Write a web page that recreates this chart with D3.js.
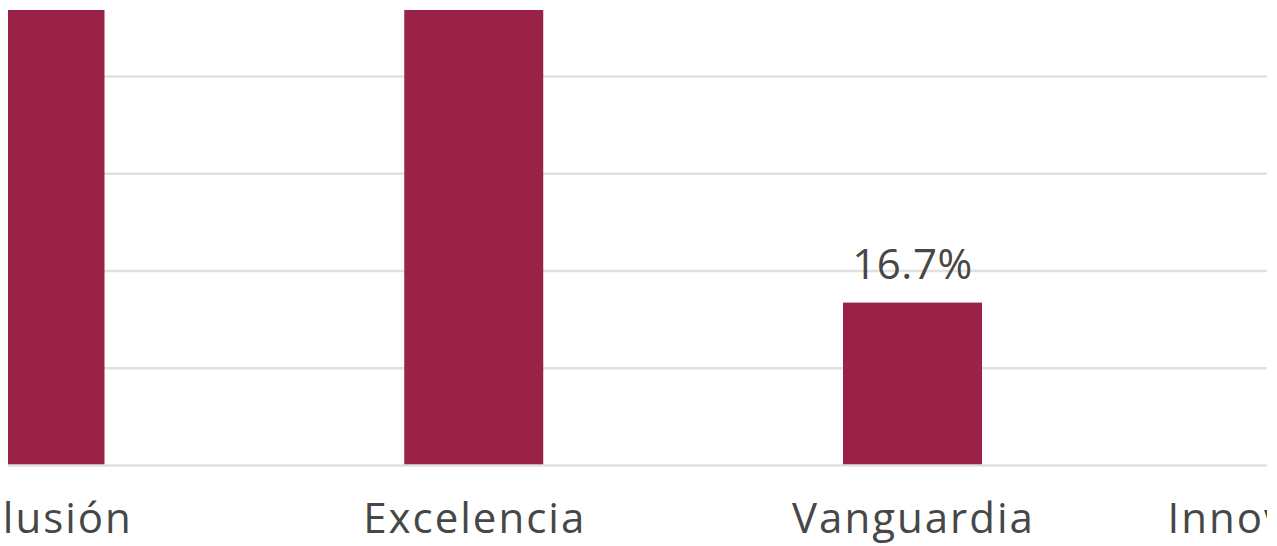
<!DOCTYPE html>
<html><head><meta charset="utf-8">
<script src="https://cdn.jsdelivr.net/npm/d3@7"></script>
<style>html,body{margin:0;padding:0;background:#fff;overflow:hidden}</style>
</head><body>
<script>
const categories = ["Inclusión", "Excelencia", "Vanguardia", "Innovación social"];
const values = [50.0, 50.0, 16.7, 16.7];
const yTicks = [0, 10, 20, 30, 40, 50];

const W = 1277, H = 546;
const FONT = "'Open Sans', sans-serif";
const svg = d3.select("body").append("svg").attr("width", W).attr("height", H);

const step = 438.75, firstCenter = 35;
const x = d3.scaleBand().domain(categories)
  .range([firstCenter - step / 2, firstCenter - step / 2 + step * categories.length])
  .paddingInner(1 - 139 / step).paddingOuter((1 - 139 / step) / 2);
const y = d3.scaleLinear().domain([0, 40]).range([465, 76]);

const defs = svg.append("defs");
defs.append("clipPath").attr("id", "plot").append("rect")
  .attr("x", 8).attr("y", 10).attr("width", 1259).attr("height", 460);
defs.append("clipPath").attr("id", "labels").append("rect")
  .attr("x", 0).attr("y", 0).attr("width", 1267).attr("height", H);

const plot = svg.append("g").attr("clip-path", "url(#plot)");

const grid = plot.append("g").attr("transform", "translate(8,0)")
  .call(d3.axisRight(y).tickValues(yTicks.filter(t => t > 0)).tickSize(1259).tickFormat(""));
grid.select(".domain").remove();
grid.selectAll("line").attr("stroke", "#e0e0e0").attr("stroke-width", 2.5);

plot.selectAll("rect.bar").data(categories).join("rect").attr("class", "bar")
  .attr("x", d => x(d)).attr("width", x.bandwidth())
  .attr("y", (d, i) => y(values[i])).attr("height", (d, i) => y(0) - y(values[i]))
  .attr("fill", "#9b2247");

const base = plot.append("g").attr("transform", "translate(8,0)")
  .call(d3.axisRight(y).tickValues([0]).tickSize(1259).tickFormat(""));
base.select(".domain").remove();
base.selectAll("line").attr("stroke", "#e0e0e0").attr("stroke-width", 2.5);

const lab = svg.append("g").attr("clip-path", "url(#labels)");
// only value labels whose anchor lies inside the visible window
const shown = categories.map((d, i) => ({ d, v: values[i] }))
  .filter(o => y(o.v) - 24 > 40 && x(o.d) + x.bandwidth() / 2 < W);
lab.selectAll("text.val").data(shown).join("text").attr("class", "val")
  .attr("x", o => x(o.d) + x.bandwidth() / 2).attr("y", o => y(o.v) - 24)
  .attr("text-anchor", "middle").attr("font-family", FONT).attr("font-size", 42)
  .attr("letter-spacing", 0.5)
  .attr("fill", "#474747").text(o => d3.format(".1f")(o.v) + "%");

lab.selectAll("text.cat").data(categories).join("text").attr("class", "cat")
  .attr("x", d => x(d) + x.bandwidth() / 2 + 1).attr("y", 533)
  .attr("text-anchor", "middle").attr("font-family", FONT).attr("font-size", 42)
  .attr("letter-spacing", 2)
  .attr("fill", "#474747").text(d => d);
</script>
</body></html>
